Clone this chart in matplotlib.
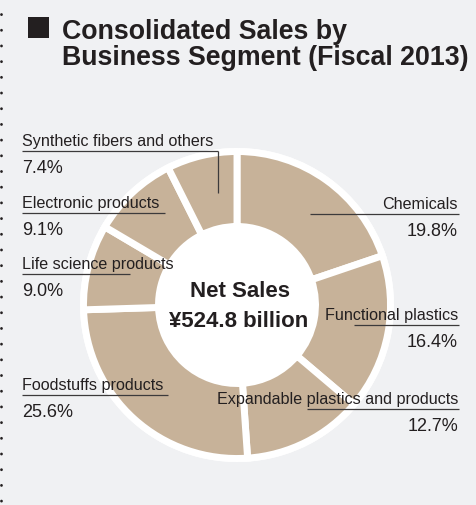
import matplotlib.pyplot as plt

# Fiscal 2013 consolidated sales, share by business segment (clockwise from 12 o'clock)
segments = [
    "Chemicals",
    "Functional plastics",
    "Expandable plastics and products",
    "Foodstuffs products",
    "Life science products",
    "Electronic products",
    "Synthetic fibers and others",
]
shares = [19.8, 16.4, 12.7, 25.6, 9.0, 9.1, 7.4]
net_sales_bn = 524.8

BG = "#f0f1f3"
TAN = "#c7b299"
INK = "#231f20"
RULE = "#3c3a3b"

W, H = 477, 506
CX, CY = 237, 306

# label layout in pixel coords: (side, underline y, underline start x, underline end x)
label_layout = {
    "Chemicals": ("right", 215, 310, 459),
    "Functional plastics": ("right", 326, 354, 459),
    "Expandable plastics and products": ("right", 410, 307, 459),
    "Foodstuffs products": ("left", 396, 22, 168),
    "Life science products": ("left", 275, 22, 130),
    "Electronic products": ("left", 214, 22, 165),
    "Synthetic fibers and others": ("left", 152, 22, 218),
}

fig = plt.figure(figsize=(W / 100, H / 100), dpi=100, facecolor=BG)
ax = fig.add_axes([0, 0, 1, 1])
ax.set_facecolor(BG)

# white disc behind the ring gives the outer halo and the white hole
ax.add_patch(plt.Circle((CX, CY), 157, facecolor="white", edgecolor="none", zorder=1))

# y axis is flipped below, so startangle=-90 + counterclock runs clockwise from the top
wedges, _ = ax.pie(
    shares,
    center=(CX, CY),
    radius=153.5,
    startangle=-90,
    counterclock=True,
    colors=[TAN] * len(shares),
    wedgeprops=dict(width=75, edgecolor="white", linewidth=5),
)
for w in wedges:
    w.set_zorder(2)

ax.set_xlim(0, W)
ax.set_ylim(H, 0)
ax.set_aspect("equal")
ax.axis("off")

# dotted border on the left
ax.plot([1.5, 1.5], [15, H], color=INK, lw=2.0, linestyle=(0, (0.05, 5.6)),
        dash_capstyle="round", zorder=5)

# title with black square bullet
ax.add_patch(plt.Rectangle((28, 18), 21, 21, facecolor=INK, edgecolor="none", zorder=5))
title_font = dict(family="Liberation Sans", fontweight="bold", fontsize=19.3, color=INK)
ax.text(62, 39, "Consolidated Sales by", va="baseline", ha="left", **title_font)
ax.text(62, 65, "Business Segment (Fiscal 2013)", va="baseline", ha="left", **title_font)

# center figure
center_font = dict(family="Liberation Sans", fontweight="bold", fontsize=16,
                   color=INK, ha="center", va="baseline", zorder=6)
ax.text(240, 297, "Net Sales", **center_font)
ax.text(239, 327, f"\u00a5{net_sales_bn:.1f} billion", **center_font)

name_font = dict(family="Liberation Sans", fontsize=11.6, color=INK, va="baseline", zorder=6)
pct_font = dict(family="Liberation Sans", fontsize=13, color=INK, va="baseline", zorder=6)

for name, share in zip(segments, shares):
    side, uy, x0, x1 = label_layout[name]
    tx = 22 if side == "left" else 458
    ax.text(tx, uy - 6, name, ha=side, **name_font)
    ax.text(tx, uy + 21, f"{share:.1f}%", ha=side, **pct_font)
    ax.plot([x0, x1], [uy, uy], color=RULE, lw=0.9, zorder=6, solid_capstyle="butt")

# leader for the small top-left segment drops into its wedge
ax.plot([218, 218], [152, 194], color=RULE, lw=0.9, zorder=6, solid_capstyle="butt")

fig.savefig("out.png", dpi=100, facecolor=BG)
